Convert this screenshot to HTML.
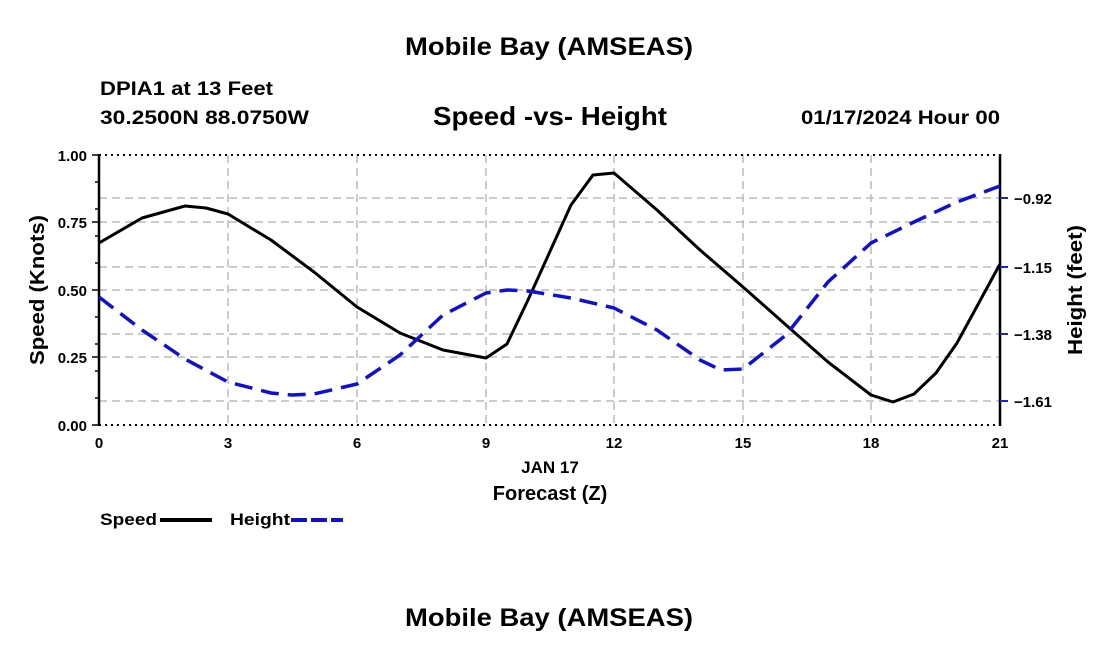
<!DOCTYPE html>
<html><head><meta charset="utf-8"><style>
body{margin:0;background:#fff;}
svg{display:block;font-family:"Liberation Sans",Arial,sans-serif;font-weight:bold;}
</style></head><body>
<svg width="1100" height="650" viewBox="0 0 1100 650">
<text x="405" y="55" font-size="25" textLength="288" lengthAdjust="spacingAndGlyphs">Mobile Bay (AMSEAS)</text>
<text x="100" y="95" font-size="19" textLength="173" lengthAdjust="spacingAndGlyphs">DPIA1 at 13 Feet</text>
<text x="100" y="124" font-size="19" textLength="209" lengthAdjust="spacingAndGlyphs">30.2500N  88.0750W</text>
<text x="433" y="125" font-size="26" textLength="234" lengthAdjust="spacingAndGlyphs">Speed -vs- Height</text>
<text x="801" y="124" font-size="19" textLength="199" lengthAdjust="spacingAndGlyphs">01/17/2024 Hour 00</text>
<g stroke="#bbb" stroke-width="1.5" stroke-dasharray="8,5" fill="none">
<line x1="99" y1="198" x2="1000" y2="198"/><line x1="99" y1="222" x2="1000" y2="222"/>
<line x1="99" y1="267" x2="1000" y2="267"/><line x1="99" y1="290" x2="1000" y2="290"/>
<line x1="99" y1="334" x2="1000" y2="334"/><line x1="99" y1="357" x2="1000" y2="357"/>
<line x1="99" y1="401" x2="1000" y2="401"/>
<line x1="228" y1="155" x2="228" y2="425"/><line x1="357" y1="155" x2="357" y2="425"/>
<line x1="486" y1="155" x2="486" y2="425"/><line x1="614" y1="155" x2="614" y2="425"/>
<line x1="743" y1="155" x2="743" y2="425"/><line x1="871" y1="155" x2="871" y2="425"/>
</g>
<g stroke="#000" stroke-width="2" stroke-dasharray="2,4" fill="none">
<line x1="99" y1="155" x2="1000" y2="155"/><line x1="99" y1="425" x2="1000" y2="425"/>
</g>
<g stroke="#000" stroke-width="2.5"><line x1="99" y1="154" x2="99" y2="426"/><line x1="1000" y1="154" x2="1000" y2="426"/></g>
<g stroke="#000" stroke-width="1.5">
<line x1="92" y1="155" x2="99" y2="155"/><line x1="92" y1="222" x2="99" y2="222"/><line x1="92" y1="290" x2="99" y2="290"/><line x1="92" y1="357" x2="99" y2="357"/><line x1="92" y1="425" x2="99" y2="425"/>
<line x1="95" y1="182" x2="99" y2="182"/><line x1="95" y1="209" x2="99" y2="209"/><line x1="95" y1="236" x2="99" y2="236"/><line x1="95" y1="263" x2="99" y2="263"/><line x1="95" y1="317" x2="99" y2="317"/><line x1="95" y1="344" x2="99" y2="344"/><line x1="95" y1="371" x2="99" y2="371"/><line x1="95" y1="398" x2="99" y2="398"/>
</g>
<g stroke="#22c" stroke-width="2">
<line x1="1000" y1="198" x2="1008" y2="198"/><line x1="1000" y1="267" x2="1008" y2="267"/><line x1="1000" y1="334" x2="1008" y2="334"/><line x1="1000" y1="401" x2="1008" y2="401"/>
</g>
<g font-size="15" text-anchor="end">
<text x="87" y="161">1.00</text><text x="87" y="228">0.75</text><text x="87" y="296">0.50</text><text x="87" y="363">0.25</text><text x="87" y="431">0.00</text>
</g>
<g font-size="15">
<text x="1014" y="204">−0.92</text><text x="1014" y="273">−1.15</text><text x="1014" y="340">−1.38</text><text x="1014" y="407">−1.61</text>
</g>
<g font-size="15" text-anchor="middle">
<text x="99" y="448">0</text><text x="228" y="448">3</text><text x="357" y="448">6</text><text x="486" y="448">9</text><text x="614" y="448">12</text><text x="743" y="448">15</text><text x="871" y="448">18</text><text x="1000" y="448">21</text>
<text x="550" y="473" font-size="17">JAN 17</text>
<text x="550" y="500" font-size="20">Forecast (Z)</text>
</g>
<text transform="translate(44,290) rotate(-90)" font-size="20" text-anchor="middle" textLength="150" lengthAdjust="spacingAndGlyphs">Speed (Knots)</text>
<text transform="translate(1082,290) rotate(-90)" font-size="20" text-anchor="middle" textLength="130" lengthAdjust="spacingAndGlyphs">Height (feet)</text>
<polyline fill="none" stroke="#000" stroke-width="3" stroke-linejoin="round" points="99,243 142,218 185,206 206,208 228,214 271,240 314,272 357,307 400,333 443,350 486,358 507,344 528,300 571,205 593,175 614,173 657,210 700,250 743,287 786,325 828,362 871,395 893,402 914,394 936,373 957,343 1000,264"/>
<polyline fill="none" stroke="#1010d0" stroke-width="3.5" stroke-dasharray="18,9" stroke-linejoin="round" points="99,297 142,330 185,359 228,382 271,393 292,395 314,394 357,384 400,355 443,315 486,293 507,290 528,291 571,298 614,308 657,330 700,360 721,370 743,369 786,335 828,282 871,243 914,222 957,202 1000,186"/>
<text x="100" y="525" font-size="17" textLength="57" lengthAdjust="spacingAndGlyphs">Speed</text>
<line x1="160" y1="520" x2="212" y2="520" stroke="#000" stroke-width="4"/>
<text x="230" y="525" font-size="17" textLength="60" lengthAdjust="spacingAndGlyphs">Height</text>
<line x1="291" y1="520" x2="343" y2="520" stroke="#1010d0" stroke-width="4" stroke-dasharray="16,4"/>
<text x="405" y="626" font-size="25" textLength="288" lengthAdjust="spacingAndGlyphs">Mobile Bay (AMSEAS)</text>
</svg>
</body></html>
